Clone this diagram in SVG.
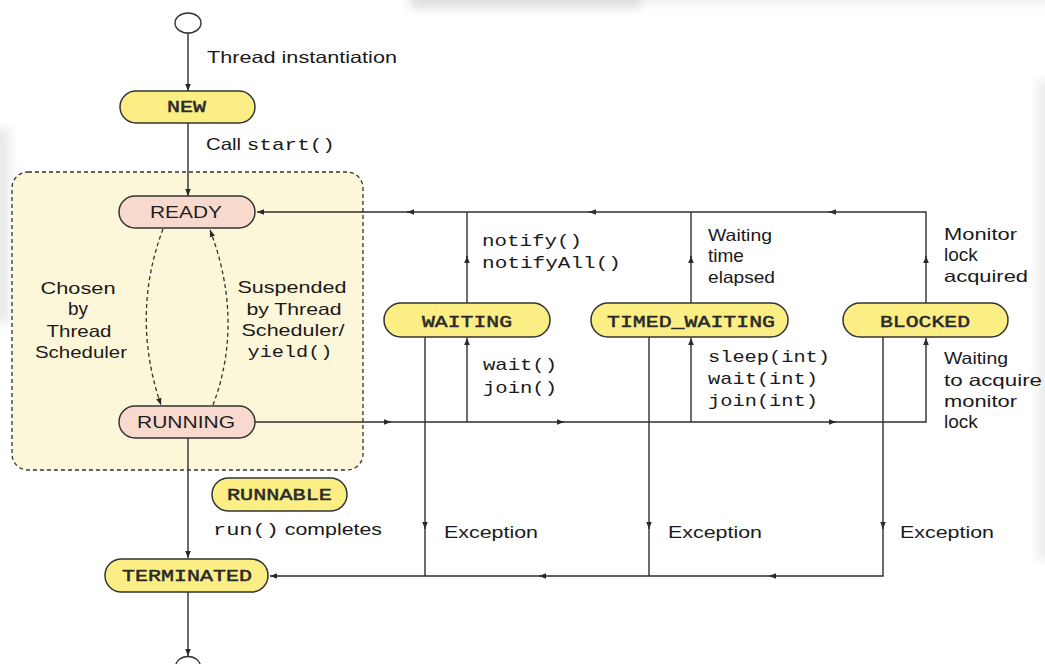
<svg xmlns="http://www.w3.org/2000/svg" width="1045" height="664" viewBox="0 0 1045 664">
<defs>
<marker id="arr" viewBox="0 0 10 10" refX="10" refY="5" markerWidth="7" markerHeight="7" markerUnits="userSpaceOnUse" orient="auto">
<path d="M0,1 L10,5 L0,9 z" fill="#2a2a2a"/>
</marker>
<filter id="blur" x="-20%" y="-20%" width="140%" height="140%"><feGaussianBlur stdDeviation="4"/></filter>
<style>
.ln{fill:none;stroke:#2f2f2f;stroke-width:1.4}
.dash{fill:none;stroke:#333;stroke-width:1.3;stroke-dasharray:4 3}
.yel{fill:#faee84;stroke:#333;stroke-width:1.5}
.pink{fill:#f7dacd;stroke:#333;stroke-width:1.5}
.nl{font-family:"Liberation Mono","Courier New",monospace;font-size:17px;fill:#2a2a2a;stroke:#2a2a2a;stroke-width:0.5}
.ns{font-family:"Liberation Sans",Arial,sans-serif;font-size:16.5px;fill:#1e1e1e}
.s{font-family:"Liberation Sans",Arial,sans-serif;font-size:16.5px;fill:#1a1a1a}
.b{font-size:19px}
.m{font-family:"Liberation Mono","Courier New",monospace;font-size:17px;fill:#1a1a1a}
.c{text-anchor:middle}
</style>
</defs>
<rect width="1045" height="664" fill="#ffffff"/>
<g id="artifacts" filter="url(#blur)" opacity="0.6">
<rect x="410" y="-6" width="230" height="14" fill="#c8c8c8"/>
<rect x="640" y="-6" width="410" height="10" fill="#e2e2e2"/>
<rect x="-6" y="128" width="16" height="195" fill="#dedede"/>
<rect x="1038" y="80" width="14" height="480" fill="#dedede"/>
</g>
<g id="runnable-box">
<rect x="12" y="172" width="351" height="298" rx="16" fill="#fdf7d9" stroke="#333" stroke-width="1.3" stroke-dasharray="4 3"/>
</g>
<g id="connectors">
<path class="ln" d="M188,32 V91" marker-end="url(#arr)"/>
<path class="ln" d="M188,123 V196" marker-end="url(#arr)"/>
<path class="ln" d="M926,303 V212 H257" marker-end="url(#arr)"/>
<path class="ln" d="M467,303 V212"/>
<path class="ln" d="M691,303 V212"/>
<path class="ln" d="M467,262 V256" marker-end="url(#arr)"/>
<path class="ln" d="M691,262 V256" marker-end="url(#arr)"/>
<path class="ln" d="M926,262 V256" marker-end="url(#arr)"/>
<path class="ln" d="M414,212 H407" marker-end="url(#arr)"/>
<path class="ln" d="M596,212 H589" marker-end="url(#arr)"/>
<path class="ln" d="M836,212 H829" marker-end="url(#arr)"/>
<path class="ln" d="M255,422 H926 V338" marker-end="url(#arr)"/>
<path class="ln" d="M467,422 V338" marker-end="url(#arr)"/>
<path class="ln" d="M691,422 V338" marker-end="url(#arr)"/>
<path class="ln" d="M384,422 H391" marker-end="url(#arr)"/>
<path class="ln" d="M557,422 H564" marker-end="url(#arr)"/>
<path class="ln" d="M829,422 H836" marker-end="url(#arr)"/>
<path class="ln" d="M425,337 V576"/>
<path class="ln" d="M649,337 V576"/>
<path class="ln" d="M883,337 V576 H270" marker-end="url(#arr)"/>
<path class="ln" d="M425,522 V529" marker-end="url(#arr)"/>
<path class="ln" d="M649,522 V529" marker-end="url(#arr)"/>
<path class="ln" d="M883,522 V529" marker-end="url(#arr)"/>
<path class="ln" d="M546,576 H539" marker-end="url(#arr)"/>
<path class="ln" d="M776,576 H769" marker-end="url(#arr)"/>
<path class="ln" d="M188,438 V558" marker-end="url(#arr)"/>
<path class="ln" d="M188,592 V656" marker-end="url(#arr)"/>
<path class="dash" d="M163,229 C140,290 142,350 161,405" marker-end="url(#arr)"/>
<path class="dash" d="M213,405 C234,350 233,290 210,230" marker-end="url(#arr)"/>
</g>
<g id="start"><ellipse cx="188" cy="23" rx="13" ry="10" fill="#fff" stroke="#333" stroke-width="1.4"/></g>
<g id="end"><ellipse cx="188" cy="667" rx="12.5" ry="10.5" fill="#fff" stroke="#333" stroke-width="1.4"/></g>
<g id="new">
<rect class="yel" x="120" y="91" width="135" height="32" rx="16"/>
<text class="nl" x="167" y="112" textLength="39" lengthAdjust="spacingAndGlyphs">NEW</text>
</g>
<g id="ready">
<rect class="pink" x="119" y="196" width="136" height="32" rx="16"/>
<text class="ns" x="150" y="218" textLength="72" lengthAdjust="spacingAndGlyphs">READY</text>
</g>
<g id="running">
<rect class="pink" x="119" y="406" width="136" height="32" rx="16"/>
<text class="ns" x="137" y="428" textLength="98" lengthAdjust="spacingAndGlyphs">RUNNING</text>
</g>
<g id="waiting">
<rect class="yel" x="384" y="303" width="166" height="34" rx="17"/>
<text class="nl" x="422" y="327" textLength="90" lengthAdjust="spacingAndGlyphs">WAITING</text>
</g>
<g id="timed-waiting">
<rect class="yel" x="591" y="303" width="197" height="34" rx="17"/>
<text class="nl" x="607" y="327" textLength="168" lengthAdjust="spacingAndGlyphs">TIMED_WAITING</text>
</g>
<g id="blocked">
<rect class="yel" x="843" y="303" width="165" height="34" rx="17"/>
<text class="nl" x="880" y="327" textLength="90" lengthAdjust="spacingAndGlyphs">BLOCKED</text>
</g>
<g id="runnable">
<rect class="yel" x="212" y="478" width="135" height="33" rx="16.5"/>
<text class="nl" x="227" y="500" textLength="105" lengthAdjust="spacingAndGlyphs">RUNNABLE</text>
</g>
<g id="terminated">
<rect class="yel" x="105" y="559" width="163" height="33" rx="16.5"/>
<text class="nl" x="122" y="581" textLength="130" lengthAdjust="spacingAndGlyphs">TERMINATED</text>
</g>
<g id="labels">
<text class="s" x="207" y="63" textLength="190" lengthAdjust="spacingAndGlyphs">Thread instantiation</text>
<text class="s" x="206" y="150" textLength="129" lengthAdjust="spacingAndGlyphs">Call <tspan class="m">start()</tspan></text>
<text class="s c" x="78" y="294" textLength="75" lengthAdjust="spacingAndGlyphs">Chosen</text>
<text class="s b c" x="78" y="315">by</text>
<text class="s c" x="79" y="337" textLength="65" lengthAdjust="spacingAndGlyphs">Thread</text>
<text class="s c" x="81" y="358" textLength="92" lengthAdjust="spacingAndGlyphs">Scheduler</text>
<text class="s c" x="292" y="293" textLength="109" lengthAdjust="spacingAndGlyphs">Suspended</text>
<text class="s c" x="294" y="315" textLength="95" lengthAdjust="spacingAndGlyphs">by Thread</text>
<text class="s c" x="293" y="336" textLength="103" lengthAdjust="spacingAndGlyphs">Scheduler/</text>
<text class="m c" x="290" y="357" textLength="85" lengthAdjust="spacingAndGlyphs">yield()</text>
<text class="m" x="482" y="246" textLength="100" lengthAdjust="spacingAndGlyphs">notify()</text>
<text class="m" x="482" y="268" textLength="139" lengthAdjust="spacingAndGlyphs">notifyAll()</text>
<text class="m" x="483" y="370" textLength="74" lengthAdjust="spacingAndGlyphs">wait()</text>
<text class="m" x="483" y="393" textLength="74" lengthAdjust="spacingAndGlyphs">join()</text>
<text class="s" x="708" y="241" textLength="64" lengthAdjust="spacingAndGlyphs">Waiting</text>
<text class="s b" x="708" y="262">time</text>
<text class="s" x="708" y="283" textLength="67" lengthAdjust="spacingAndGlyphs">elapsed</text>
<text class="m" x="708" y="362" textLength="122" lengthAdjust="spacingAndGlyphs">sleep(int)</text>
<text class="m" x="708" y="384" textLength="110" lengthAdjust="spacingAndGlyphs">wait(int)</text>
<text class="m" x="708" y="406" textLength="110" lengthAdjust="spacingAndGlyphs">join(int)</text>
<text class="s" x="944" y="240" textLength="73" lengthAdjust="spacingAndGlyphs">Monitor</text>
<text class="s b" x="944" y="261">lock</text>
<text class="s" x="944" y="282" textLength="84" lengthAdjust="spacingAndGlyphs">acquired</text>
<text class="s" x="944" y="364" textLength="64" lengthAdjust="spacingAndGlyphs">Waiting</text>
<text class="s" x="944" y="386" textLength="98" lengthAdjust="spacingAndGlyphs">to acquire</text>
<text class="s" x="944" y="407" textLength="73" lengthAdjust="spacingAndGlyphs">monitor</text>
<text class="s b" x="944" y="428">lock</text>
<text class="s" x="444" y="538" textLength="94" lengthAdjust="spacingAndGlyphs">Exception</text>
<text class="s" x="668" y="538" textLength="94" lengthAdjust="spacingAndGlyphs">Exception</text>
<text class="s" x="900" y="538" textLength="94" lengthAdjust="spacingAndGlyphs">Exception</text>
<text class="s" x="213" y="535" textLength="169" lengthAdjust="spacingAndGlyphs"><tspan class="m">run()</tspan> completes</text>
</g>
</svg>
